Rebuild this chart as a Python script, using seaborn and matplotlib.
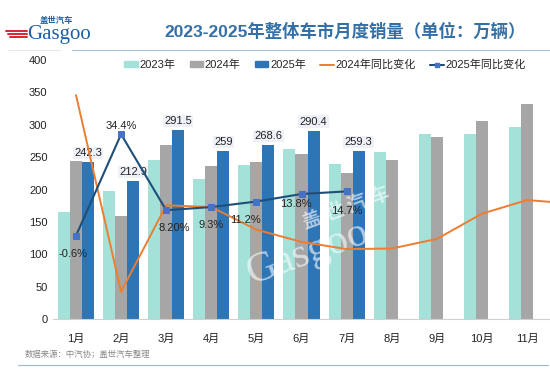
import matplotlib.pyplot as plt
import matplotlib.patches as mpatches
import matplotlib.lines as mlines
import numpy as np
import pandas as pd
import seaborn as sns

# data (万辆)
months = ['1月', '2月', '3月', '4月', '5月', '6月', '7月', '8月', '9月', '10月', '11月']
sales_2023 = [164.9, 197.6, 245.1, 216.0, 238.2, 262.2, 238.7, 258.2, 285.8, 285.3, 297.0]
sales_2024 = [243.9, 158.4, 269.4, 235.9, 241.7, 255.3, 226.2, 245.3, 280.9, 305.3, 331.6]
sales_2025 = [242.3, 212.9, 291.5, 259.0, 268.6, 290.4, 259.3, None, None, None, None]
# YoY change (%), 2024 line runs on into December (cut off by the frame)
yoy_2024 = [47.9, -19.9, 9.9, 9.3, 1.5, -2.7, -5.2, -5.0, -1.7, 7.0, 11.7, 10.5]
yoy_2025 = [-0.6, 34.4, 8.2, 9.3, 11.2, 13.8, 14.7]
yoy_2025_labels = ['-0.6%', '34.4%', '8.20%', '9.3%', '11.2%', '13.8%', '14.7%']

years = ['2023年', '2024年', '2025年']
colors = ['#A3E1D9', '#A6A6A6', '#2E75B6']

sns.set_style('white')
plt.rcParams['font.family'] = ['Liberation Sans', 'Noto Sans CJK SC', 'DejaVu Sans']

df = pd.DataFrame({'month': months * 3,
                   'year': [y for y in years for _ in months],
                   'value': sales_2023 + sales_2024 + sales_2025})
df = df.dropna()

fig = plt.figure(figsize=(5.5, 3.78), dpi=100)
ax = fig.add_axes([53 / 550, 59 / 378, 497 / 550, 259 / 378])

sns.barplot(data=df, x='month', y='value', hue='year', hue_order=years, order=months,
            palette=colors, width=0.8, ax=ax, legend=False, saturation=1, linewidth=0)
ax.set_xlim(-0.51, 10.51)
ax.set_ylim(0, 400)
ax.set_yticks(range(0, 401, 50))
ax.set_xlabel('')
ax.set_ylabel('')
ax.tick_params(axis='both', length=0, labelsize=8, colors='#222222')
ax.tick_params(axis='x', pad=11)
ax.tick_params(axis='y', pad=4)
for s in ['top', 'right', 'left']:
    ax.spines[s].set_visible(False)
ax.spines['bottom'].set_color('#D0D0D0')

ax.bar_label(ax.containers[2], fmt='%g', padding=3, fontsize=8, color='#222222',
             bbox=dict(boxstyle='square,pad=0.12', fc='#EEF2F8', ec='none'))

# secondary axis for YoY lines
ax2 = ax.twinx()
ax2.set_ylim(-29.3, 60)
ax2.set_xlim(-0.51, 10.51)

# watermark, kept under the lines and labels
ax2.text(0.56, 0.33, 'Gasgoo', fontsize=30, family='Liberation Serif', color='white',
         alpha=0.6, rotation=20, ha='center', va='center', transform=fig.transFigure, zorder=1)
ax2.text(0.63, 0.45, '盖 世 汽 车', fontsize=14, color='white', alpha=0.6, rotation=20,
         ha='center', va='center', family=['Noto Sans CJK SC'], weight='bold',
         transform=fig.transFigure, zorder=1)

sns.lineplot(x=np.arange(len(yoy_2024)), y=yoy_2024, color='#ED7D31', lw=1.4, ax=ax2, zorder=3)
sns.lineplot(x=np.arange(len(yoy_2025)), y=yoy_2025, color='#1F4E79', lw=1.5, ax=ax2, zorder=4,
             marker='s', markersize=4, markerfacecolor='#4472C4', markeredgecolor='#4472C4')
ax2.set_yticks([])
ax2.set_ylabel('')
for s in ax2.spines.values():
    s.set_visible(False)

offsets = [(-2, -13), (0, 6), (6, -13), (0, -13), (-8, -13), (-4, -7), (0, -14)]
for i, (v, lab) in enumerate(zip(yoy_2025, yoy_2025_labels)):
    dx, dy = offsets[i]
    ax2.annotate(lab, (i, v), xytext=(dx, dy), textcoords='offset points',
                 ha='center', va='center', fontsize=8, color='#222222', zorder=5)

# legend
handles = [mpatches.Patch(color=c) for c in colors]
handles += [mlines.Line2D([], [], color='#ED7D31', lw=1.4),
            mlines.Line2D([], [], color='#1F4E79', lw=1.5, marker='s', markersize=3,
                          markerfacecolor='#4472C4', markeredgecolor='#4472C4')]
labels = years + ['2024年同比变化', '2025年同比变化']
fig.legend(handles, labels, loc='center', bbox_to_anchor=(325 / 550, 1 - 65 / 378), ncol=5,
           frameon=False, fontsize=8, handlelength=1.2, handleheight=0.45, handletextpad=0.15,
           columnspacing=1.3)

# title and header
fig.text(345 / 550, 1 - 31 / 378, '2023-2025年整体车市月度销量（单位：万辆）', fontsize=12.5,
         weight='bold', color='#3470A6', ha='center', va='center')
fig.add_artist(mlines.Line2D([72 / 550, 1], [1 - 50 / 378] * 2, color='#A9C4D6', lw=0.8))
fig.add_artist(mlines.Line2D([8 / 550, 60 / 550], [1 - 50 / 378] * 2, color='#D5DEE5', lw=0.5))
fig.text(27 / 550, 1 - 35 / 378, 'Gasgoo', fontsize=15, family='Liberation Serif',
         color='#1F5FA5', ha='left', va='center')
fig.text(56 / 550, 1 - 21 / 378, '盖世汽车', fontsize=6, weight='bold', color='#1F5FA5',
         ha='center', va='center', family=['Noto Sans CJK SC'])
for k in range(3):
    fig.add_artist(mlines.Line2D([(6 + 2 * k) / 550, 27 / 550], [1 - (31 + 3 * k) / 378] * 2,
                                 color='#D9262C', lw=1.4))

# footer
fig.text(25 / 550, 1 - 355 / 378, '数据来源：中汽协；盖世汽车整理', fontsize=6, color='#888888',
         ha='left', va='center')
fig.add_artist(mlines.Line2D([18 / 550, 548 / 550], [1 - 365 / 378] * 2, color='#9DB8C8', lw=0.8))

fig.savefig('out.png', dpi=100)
